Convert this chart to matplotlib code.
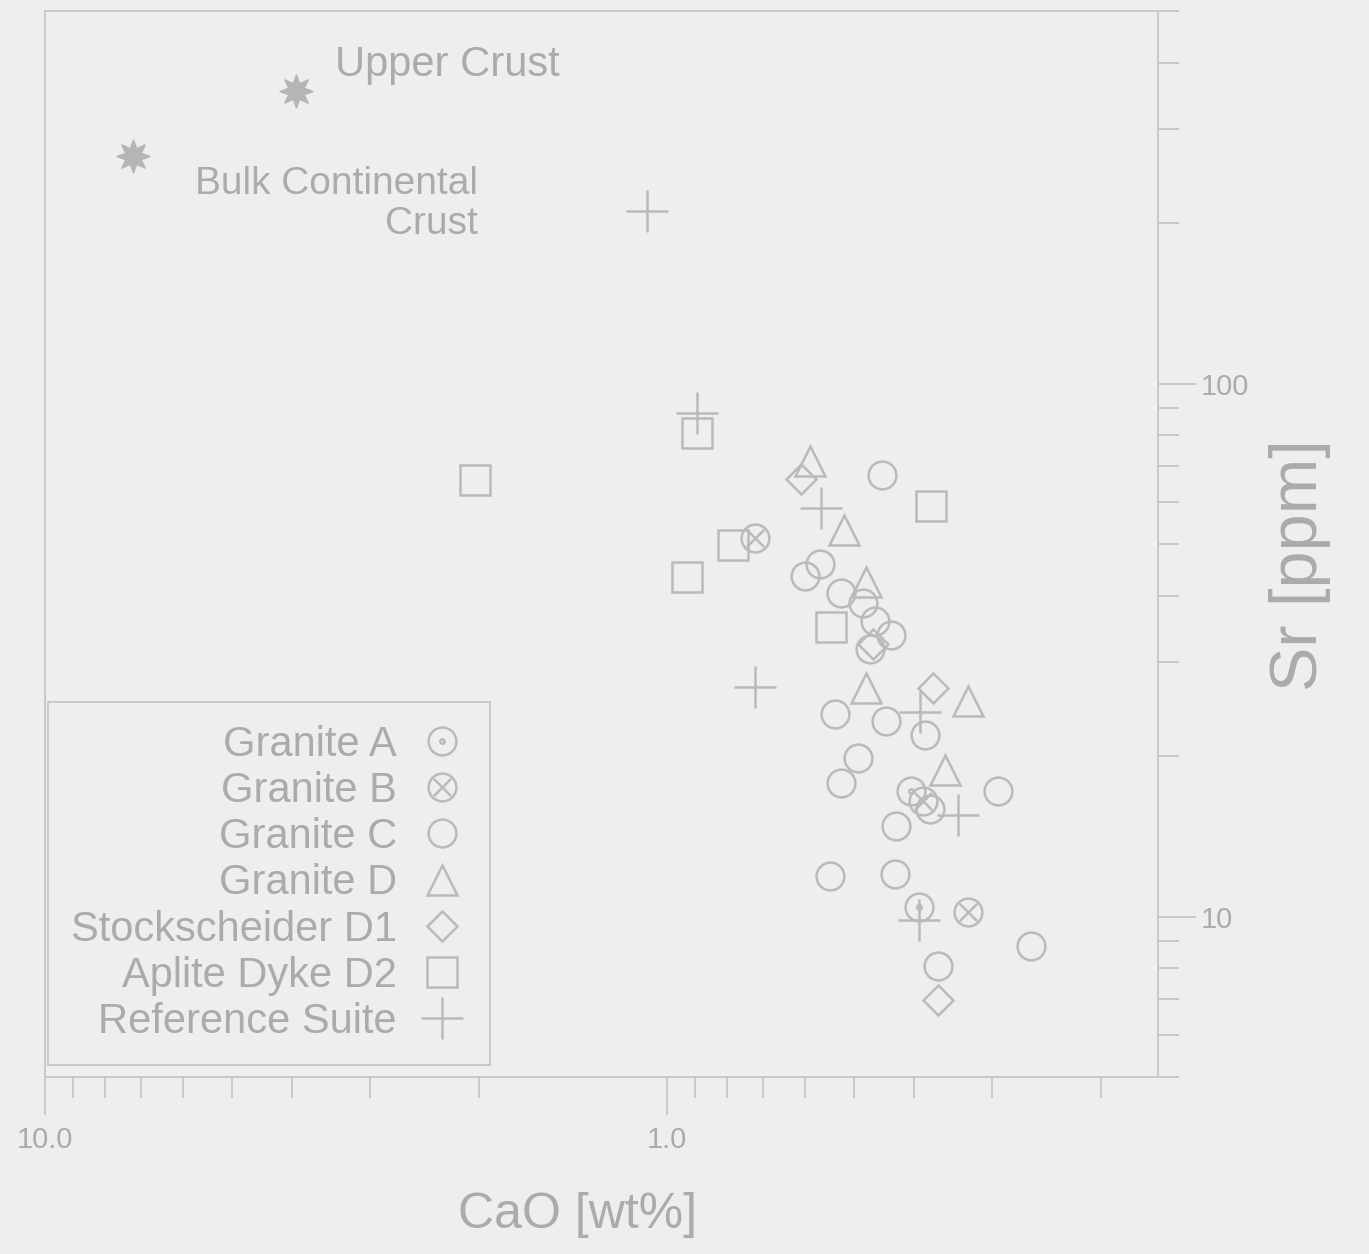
import numpy as np
import matplotlib
matplotlib.use("Agg")
import matplotlib.pyplot as plt
from matplotlib.path import Path
from matplotlib.ticker import LogLocator, FixedLocator, FixedFormatter, NullFormatter

# ---------------- data (CaO wt%, Sr ppm) ----------------
granite_a_cao = [0.393, 0.404]
granite_a_sr = [10.4, 17.2]

granite_b_cao = [0.720, 0.3275, 0.387]
granite_b_sr = [51.4, 10.2, 16.5]

granite_c_cao = [0.450, 0.598, 0.566, 0.524, 0.483, 0.462, 0.435, 0.471, 0.536, 0.443,
                 0.384, 0.492, 0.524, 0.293, 0.377, 0.427, 0.545, 0.429, 0.2595, 0.366]
granite_c_sr = [67.5, 43.6, 45.9, 40.4, 38.7, 35.9, 33.7, 31.8, 24.0, 23.3,
                21.9, 19.8, 17.8, 17.2, 15.9, 14.8, 11.9, 12.0, 8.82, 8.09]

granite_d_cao = [0.589, 0.518, 0.4775, 0.4775, 0.3275, 0.3566]
granite_d_sr = [71.7, 53.2, 42.5, 26.8, 25.4, 18.8]

stock_cao = [0.609, 0.3727, 0.366, 0.465]
stock_sr = [66.1, 26.8, 6.96, 32.5]

aplite_cao = [2.033, 0.895, 0.3756, 0.781, 0.929, 0.543]
aplite_sr = [65.8, 80.9, 58.8, 49.7, 43.3, 35.0]

ref_cao = [1.077, 0.895, 0.564, 0.720, 0.391, 0.340, 0.393]
ref_sr = [211, 88.2, 58.3, 27.0, 24.2, 15.5, 9.87]

crust_names = ["Upper Crust", "Bulk Continental\nCrust"]
crust_cao = [3.94, 7.22]
crust_sr = [354, 267]

series_labels = ["Granite A", "Granite B", "Granite C", "Granite D",
                 "Stockscheider D1", "Aplite Dyke D2", "Reference Suite"]
x_tick_values = [10.0, 1.0]
x_tick_labels = ["10.0", "1.0"]
y_tick_values = [10, 100]
y_tick_labels = ["10", "100"]

# ---------------- style ----------------
BG = "#eeeeee"
TXT = "#ababab"
LN = "#bababa"
SP = "#c6c6c6"
plt.rcParams["font.family"] = ["Liberation Sans", "DejaVu Sans"]

circ = Path.unit_circle()
d = 0.62
cross = Path([(-d, -d), (d, d), (-d, d), (d, -d)],
             [Path.MOVETO, Path.LINETO, Path.MOVETO, Path.LINETO])
otimes = Path.make_compound_path(circ, cross)
odot = Path.make_compound_path(circ, Path.circle((0, 0), 0.16))

fig = plt.figure(figsize=(13.69, 12.54), dpi=100, facecolor=BG)
W, H = 1369, 1254
L, R, T, B = 45, 1158, 11, 1077
ax = fig.add_axes([L / W, 1 - B / H, (R - L) / W, (B - T) / H])
ax.set_facecolor(BG)

ax.set_xscale("log")
ax.set_yscale("log")
ax.set_xlim(10, 0.162)
ax.set_ylim(5, 500)

mew = 1.8
common = dict(linestyle="none", mfc="none", mec=LN, mew=mew, color=LN)
h = []
h += ax.plot(granite_a_cao, granite_a_sr, marker=odot, ms=20, label=series_labels[0], **common)
h += ax.plot(granite_b_cao, granite_b_sr, marker=otimes, ms=20, label=series_labels[1], **common)
h += ax.plot(granite_c_cao, granite_c_sr, marker="o", ms=20, label=series_labels[2], **common)
h += ax.plot(granite_d_cao, granite_d_sr, marker="^", ms=22, label=series_labels[3], **common)
h += ax.plot(stock_cao, stock_sr, marker="D", ms=15.5, label=series_labels[4], **common)
h += ax.plot(aplite_cao, aplite_sr, marker="s", ms=22, label=series_labels[5], **common)
h += ax.plot(ref_cao, ref_sr, marker="+", ms=30, label=series_labels[6], **common)

ax.plot(crust_cao, crust_sr, linestyle="none", marker=(8, 1, 0), ms=24,
        mfc="#b5b5b5", mec="#b5b5b5")

ax.text((560 - L) / (R - L), (B - 65) / (B - T), crust_names[0], transform=ax.transAxes,
        ha="right", va="center", fontsize=30, color=TXT)
ax.text((478 - L) / (R - L), (B - 204) / (B - T), crust_names[1], transform=ax.transAxes,
        ha="right", va="center", multialignment="right", fontsize=28, color=TXT,
        linespacing=1.15)

# axes / ticks
for s in ax.spines.values():
    s.set_color(SP)
    s.set_linewidth(1.3)
ax.yaxis.tick_right()
ax.yaxis.set_label_position("right")
ax.xaxis.set_major_locator(FixedLocator(x_tick_values))
ax.xaxis.set_major_formatter(FixedFormatter(x_tick_labels))
ax.xaxis.set_minor_locator(LogLocator(base=10, subs=np.arange(2, 10)))
ax.xaxis.set_minor_formatter(NullFormatter())
ax.yaxis.set_major_locator(FixedLocator(y_tick_values))
ax.yaxis.set_major_formatter(FixedFormatter(y_tick_labels))
ax.yaxis.set_minor_locator(LogLocator(base=10, subs=np.arange(2, 10)))
ax.yaxis.set_minor_formatter(NullFormatter())
ax.tick_params(which="major", direction="out", length=27, width=1.3, color=SP,
               labelcolor=TXT, labelsize=21)
ax.tick_params(which="minor", direction="out", length=15, width=1.3, color=SP)
ax.tick_params(axis="x", which="major", pad=8)
ax.tick_params(axis="y", which="major", pad=4)

ax.set_xlabel("CaO [wt%]", fontsize=36, color=TXT)
ax.set_ylabel("Sr [ppm]", fontsize=48, color=TXT)
ax.xaxis.set_label_coords((578 - L) / (R - L), (B - 1215) / (B - T))
ax.yaxis.set_label_coords((1300 - L) / (R - L), (B - 565) / (B - T))
for lab in (ax.xaxis.label, ax.yaxis.label):
    lab.set_verticalalignment("center")
    lab.set_horizontalalignment("center")
    lab.set_rotation_mode("anchor")

leg = ax.legend(handles=h, loc="lower left",
                bbox_to_anchor=((48 - L) / (R - L), (B - 1065) / (B - T)),
                borderaxespad=0, markerfirst=False, fontsize=30, labelspacing=0.15,
                handlelength=1.2, handletextpad=0.48, borderpad=0.55,
                frameon=True, fancybox=False, edgecolor=SP, facecolor=BG,
                framealpha=1, labelcolor=TXT)
leg.get_frame().set_linewidth(1.3)

fig.savefig("out.png", dpi=100, facecolor=BG)
